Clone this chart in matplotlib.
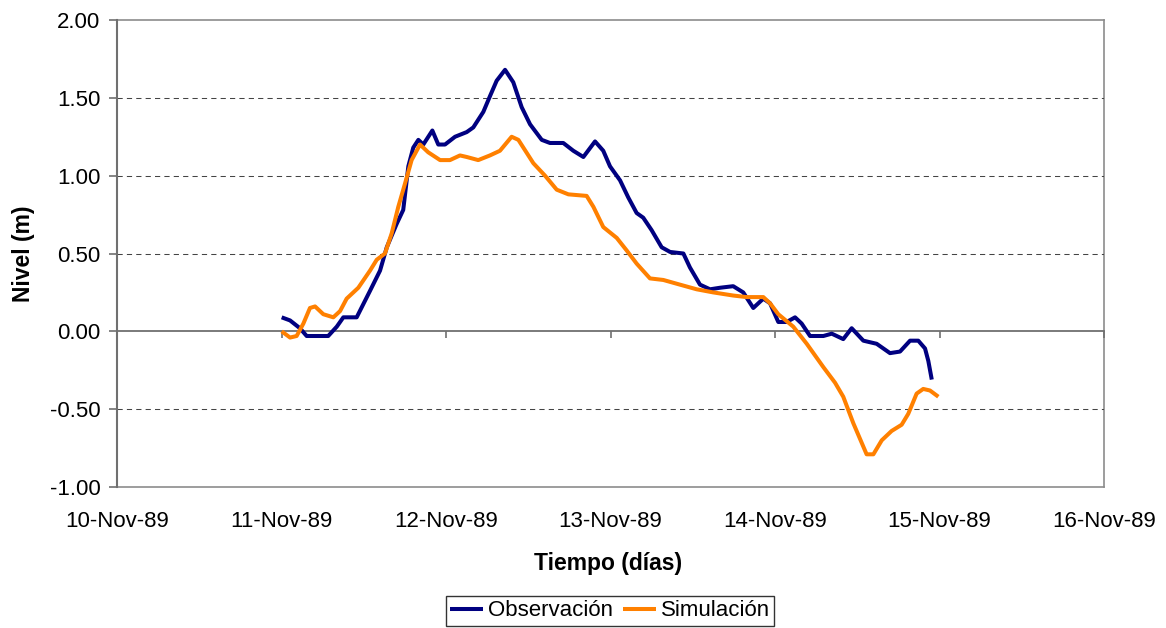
import matplotlib
matplotlib.use("Agg")
import matplotlib.pyplot as plt
import matplotlib.dates as mdates
import numpy as np
from datetime import datetime

plt.rcParams['font.family'] = ['Liberation Sans', 'DejaVu Sans']

# Day offsets counted from 10-Nov-89 00:00
obs_dias = [1.001, 1.052, 1.112, 1.153, 1.284, 1.336, 1.376, 1.457, 1.538, 1.599,
            1.640, 1.700, 1.740, 1.771, 1.801, 1.832, 1.862, 1.917, 1.953, 1.994,
            2.055, 2.126, 2.166, 2.227, 2.267, 2.308, 2.359, 2.409, 2.460, 2.511,
            2.582, 2.632, 2.713, 2.774, 2.835, 2.906, 2.956, 2.997, 3.058, 3.108,
            3.159, 3.199, 3.250, 3.311, 3.362, 3.443, 3.483, 3.544, 3.605, 3.666,
            3.746, 3.807, 3.868, 3.929, 3.970, 4.020, 4.071, 4.122, 4.162, 4.213,
            4.294, 4.345, 4.415, 4.466, 4.537, 4.618, 4.699, 4.760, 4.821, 4.871,
            4.912, 4.932, 4.953]
obs_nivel = [0.09, 0.07, 0.02, -0.03, -0.03, 0.03, 0.09, 0.09, 0.26, 0.39,
             0.54, 0.69, 0.78, 1.06, 1.18, 1.23, 1.20, 1.29, 1.20, 1.20,
             1.25, 1.28, 1.31, 1.41, 1.51, 1.61, 1.68, 1.60, 1.44, 1.33,
             1.23, 1.21, 1.21, 1.16, 1.12, 1.22, 1.16, 1.06, 0.97, 0.86,
             0.76, 0.73, 0.65, 0.54, 0.51, 0.50, 0.41, 0.30, 0.27, 0.28,
             0.29, 0.25, 0.15, 0.21, 0.18, 0.06, 0.06, 0.09, 0.05, -0.03,
             -0.03, -0.015, -0.05, 0.02, -0.06, -0.08, -0.14, -0.13, -0.06, -0.06,
             -0.11, -0.19, -0.31]

sim_dias = [1.001, 1.052, 1.092, 1.133, 1.173, 1.204, 1.254, 1.315, 1.356, 1.396,
            1.467, 1.538, 1.579, 1.629, 1.670, 1.710, 1.751, 1.791, 1.842, 1.892,
            1.964, 2.024, 2.085, 2.126, 2.196, 2.267, 2.328, 2.399, 2.440, 2.531,
            2.602, 2.673, 2.744, 2.855, 2.896, 2.956, 3.038, 3.098, 3.159, 3.240,
            3.321, 3.422, 3.524, 3.625, 3.746, 3.828, 3.929, 3.970, 4.020, 4.111,
            4.193, 4.294, 4.365, 4.415, 4.476, 4.557, 4.598, 4.649, 4.709, 4.770,
            4.810, 4.861, 4.901, 4.942, 4.993]
sim_nivel = [0.00, -0.04, -0.03, 0.05, 0.15, 0.16, 0.11, 0.09, 0.13, 0.21,
             0.28, 0.39, 0.46, 0.50, 0.63, 0.80, 0.95, 1.10, 1.20, 1.15,
             1.10, 1.10, 1.13, 1.12, 1.10, 1.13, 1.16, 1.25, 1.23, 1.08,
             1.00, 0.91, 0.88, 0.87, 0.80, 0.67, 0.60, 0.52, 0.435, 0.34,
             0.33, 0.30, 0.27, 0.25, 0.23, 0.22, 0.22, 0.18, 0.11, 0.03,
             -0.08, -0.23, -0.33, -0.42, -0.59, -0.79, -0.79, -0.70, -0.64, -0.60,
             -0.53, -0.40, -0.37, -0.38, -0.42]

y_ticks = [-1.0, -0.5, 0.0, 0.5, 1.0, 1.5, 2.0]
n_days = 6
series_labels = ['Observación', 'Simulación']
series_colors = ['#000080', '#FF8000']

base = mdates.date2num(datetime(1989, 11, 10))
x_ticks = [base + d for d in range(n_days + 1)]

W, H = 1166, 628
fig = plt.figure(figsize=(W / 100, H / 100), dpi=100)
rect = [117 / W, 1 - 487 / H, (1104 - 117) / W, (487 - 20) / H]

border = '#8c8c8c'
LW = 2.9

# Background axes: plot-area border and the (low) date labels
ax2 = fig.add_axes(rect, zorder=0)
ax2.set_xlim(x_ticks[0], x_ticks[-1])
ax2.set_ylim(-1, 2)
ax2.set_yticks([])
ax2.set_xticks(x_ticks)
ax2.xaxis.set_major_formatter(mdates.DateFormatter('%d-%b-%y'))
ax2.tick_params(axis='x', length=0, pad=17, labelsize=16)
for s in ax2.spines.values():
    s.set_color(border)
    s.set_linewidth(1.2)
ax2.set_xlabel('Tiempo (días)', fontsize=16.5, fontweight='bold')
ax2.xaxis.set_label_coords(0.498, -0.163)
ax2.xaxis.label.set_va('center')

# Data axes
ax = fig.add_axes(rect, zorder=1)
ax.patch.set_visible(False)
ax.set_xlim(x_ticks[0], x_ticks[-1])
ax.set_ylim(-1, 2)
ax.set_xticks(x_ticks)
ax.set_yticks(y_ticks)
ax.yaxis.set_major_formatter(matplotlib.ticker.FormatStrFormatter('%.2f'))
ax.spines['top'].set_visible(False)
ax.spines['right'].set_visible(False)
ax.spines['bottom'].set_position(('data', 0))
ax.spines['bottom'].set_color('#707070')
ax.spines['bottom'].set_linewidth(1.3)
ax.spines['left'].set_color('#707070')
ax.spines['left'].set_linewidth(1.5)
ax.tick_params(axis='x', direction='out', length=5, width=1.2, color='#707070',
               labelbottom=False)
ax.tick_params(axis='y', direction='out', length=6, width=1.2, color='#707070',
               pad=6, labelsize=16)

ax.grid(axis='y', color='#444444', linewidth=0.75, linestyle=(0, (5, 4)))
for yv, gl in zip(y_ticks, ax.yaxis.get_gridlines()):
    if yv in (y_ticks[0], 0.0, y_ticks[-1]):
        gl.set_visible(False)

ax.set_ylabel('Nivel (m)', fontsize=16.5, fontweight='bold')
ax.yaxis.set_label_coords(-0.095, 0.5)
ax.yaxis.label.set_va('center')

h1, = ax.plot([base + d for d in obs_dias], obs_nivel, color=series_colors[0],
              lw=LW, solid_joinstyle='round', solid_capstyle='butt', zorder=3,
              label=series_labels[0])
h2, = ax.plot([base + d for d in sim_dias], sim_nivel, color=series_colors[1],
              lw=LW, solid_joinstyle='round', solid_capstyle='butt', zorder=3,
              label=series_labels[1])

leg = fig.legend(handles=[h1, h2], loc='upper center',
                 bbox_to_anchor=(610 / W, 1 - 596 / H), ncol=2, fontsize=16,
                 frameon=True, fancybox=False, edgecolor='black',
                 handlelength=1.5, handletextpad=0.2, columnspacing=0.45,
                 borderpad=0.2, borderaxespad=0)
leg.get_frame().set_linewidth(1.0)
for lh in leg.get_lines():
    lh.set_linewidth(LW)

fig.savefig('out.png', dpi=100)
